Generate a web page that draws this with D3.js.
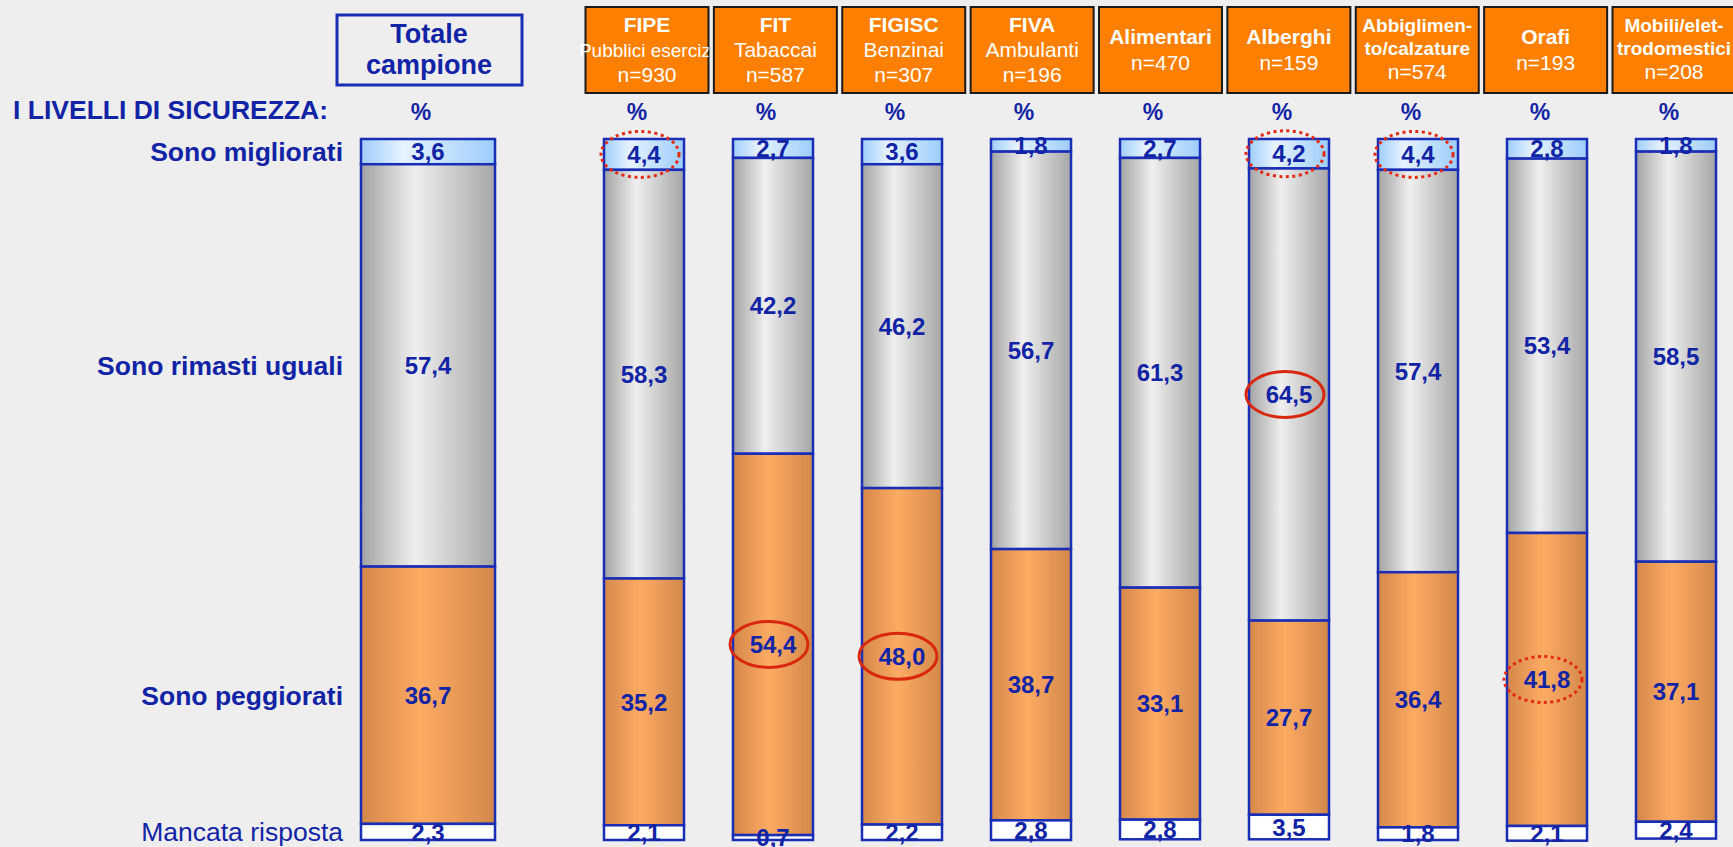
<!DOCTYPE html>
<html>
<head>
<meta charset="utf-8">
<script src="https://cdn.jsdelivr.net/npm/d3@7"></script>
<style>
  body { margin: 0; background: #eeeeee; }
  svg { display: block; font-family: "Liberation Sans", Arial, sans-serif; }
</style>
</head>
<body>
<div id="wrapper"></div>
<script>
// data
const totalLabel = ["Totale", "campione"]
const sectors = ["FIPE", "FIT", "FIGISC", "FIVA", "Alimentari", "Alberghi", "Abbigliamento", "Orafi", "Mobili"]
const sectorTitles = [["FIPE"], ["FIT"], ["FIGISC"], ["FIVA"], ["Alimentari"], ["Alberghi"],
  ["Abbiglimen-", "to/calzature"], ["Orafi"], ["Mobili/elet-", "trodomestici"]]
const sectorSubtitles = ["Pubblici esercizi", "Tabaccai", "Benzinai", "Ambulanti", "", "", "", "", ""]
const sectorN = [930, 587, 307, 196, 470, 159, 574, 193, 208]

const rowLabels = ["Sono migliorati", "Sono rimasti uguali", "Sono peggiorati", "Mancata risposta"]
// first value of each series = Totale campione, then the sectors in order
const migliorati = [3.6, 4.4, 2.7, 3.6, 1.8, 2.7, 4.2, 4.4, 2.8, 1.8]
const uguali     = [57.4, 58.3, 42.2, 46.2, 56.7, 61.3, 64.5, 57.4, 53.4, 58.5]
const peggiorati = [36.7, 35.2, 54.4, 48.0, 38.7, 33.1, 27.7, 36.4, 41.8, 37.1]
const mancata    = [2.3, 2.1, 0.7, 2.2, 2.8, 2.8, 3.5, 1.8, 2.1, 2.4]

// circled values: [column, series index, style]
const highlights = [
  ["FIPE", 0, "dot"], ["Alberghi", 0, "dot"], ["Abbigliamento", 0, "dot"],
  ["Alberghi", 1, "solid"],
  ["FIT", 2, "solid"], ["FIGISC", 2, "solid"], ["Orafi", 2, "dot"],
]

function draw() {
  const dimensions = { width: 1733, height: 847, barTop: 139, barBottom: 840 }
  const blue = "#1224a6"
  const lineBlue = "#1a2db5"

  const wrapper = d3.select("#wrapper").append("svg")
      .attr("width", dimensions.width)
      .attr("height", dimensions.height)

  wrapper.append("rect")
      .attr("width", dimensions.width)
      .attr("height", dimensions.height)
      .attr("fill", "#eeeeee")

  // gradients for the cylinder look
  const defs = wrapper.append("defs")
  const gradients = [
    { id: "g-migl", stops: [[0, "#9fcefb"], [0.32, "#e6f3ff"], [1, "#9ccdfb"]] },
    { id: "g-ugua", stops: [[0, "#a3a3a3"], [0.4, "#efefef"], [1, "#a6a6a6"]] },
    { id: "g-pegg", stops: [[0, "#d4884a"], [0.45, "#fdab63"], [1, "#d2884b"]] },
    { id: "g-manc", stops: [[0, "#ffffff"], [1, "#ffffff"]] },
  ]
  gradients.forEach(g => {
    defs.append("linearGradient")
        .attr("id", g.id)
        .attr("x1", "0%").attr("x2", "100%")
      .selectAll("stop")
      .data(g.stops)
      .join("stop")
        .attr("offset", d => `${d[0] * 100}%`)
        .attr("stop-color", d => d[1])
  })

  // scales
  const yScale = d3.scaleLinear()
    .domain([0, 100])
    .range([dimensions.barTop, dimensions.barBottom])
  const hScale = v => yScale(v) - yScale(0)

  const xBar = d3.scalePoint().domain(sectors).range([644, 1676])
  const xBox = d3.scalePoint().domain(sectors).range([647, 1674])
  const totalX = 428
  const barWidth = 80
  const totalBarWidth = 134

  const seriesList = [migliorati, uguali, peggiorati, mancata]
  const fills = ["url(#g-migl)", "url(#g-ugua)", "url(#g-pegg)", "url(#g-manc)"]
  const columns = ["Totale"].concat(sectors)

  // build stacked segments from top
  const segments = []
  columns.forEach((col, i) => {
    let acc = 0
    seriesList.forEach((series, s) => {
      const v = series[i]
      segments.push({
        col, s, v,
        y0: acc, y1: acc + v,
        cx: col === "Totale" ? totalX : xBar(col),
        w: col === "Totale" ? totalBarWidth : barWidth,
      })
      acc += v
    })
  })

  // header: Totale campione box
  const header = wrapper.append("g")
  header.append("rect")
      .attr("x", 337).attr("y", 15)
      .attr("width", 185).attr("height", 70)
      .attr("fill", "#eeeeee")
      .attr("stroke", lineBlue)
      .attr("stroke-width", 3)
  header.append("text")
      .attr("x", totalX + 1)
      .attr("text-anchor", "middle")
      .attr("fill", blue)
      .attr("font-weight", "bold")
      .attr("font-size", 27)
    .selectAll("tspan")
    .data(totalLabel)
    .join("tspan")
      .attr("x", totalX + 1)
      .attr("y", (d, i) => 43 + i * 31)
      .text(d => d)

  // header: orange sector boxes
  const boxW = 123
  const boxes = header.selectAll(".sector-box")
    .data(sectors)
    .join("g")
      .attr("class", "sector-box")
      .attr("transform", d => `translate(${xBox(d)}, 0)`)

  boxes.append("clipPath")
      .attr("id", (d, i) => `clip-${i}`)
    .append("rect")
      .attr("x", -boxW / 2 - 6).attr("y", 7)
      .attr("width", boxW + 6).attr("height", 86)

  boxes.append("rect")
      .attr("x", -boxW / 2).attr("y", 7)
      .attr("width", boxW).attr("height", 86)
      .attr("fill", "#ff8000")
      .attr("stroke", "#1a1a1a")
      .attr("stroke-width", 2)

  boxes.each(function(d, i) {
    const g = d3.select(this)
    const title = sectorTitles[i]
    const sub = sectorSubtitles[i]
    const lines = []
    if (sub) {
      lines.push({ t: title[0], b: true, size: 21, y: 32 })
      lines.push({ t: sub, b: false, size: i === 0 ? 19 : 21, y: 57 })
      lines.push({ t: `n=${sectorN[i]}`, b: false, size: 21, y: 82 })
    } else if (title.length === 2) {
      lines.push({ t: title[0], b: true, size: 19, y: 32 })
      lines.push({ t: title[1], b: true, size: 19, y: 55 })
      lines.push({ t: `n=${sectorN[i]}`, b: false, size: 21, y: 79 })
    } else {
      lines.push({ t: title[0], b: true, size: 21, y: 44 })
      lines.push({ t: `n=${sectorN[i]}`, b: false, size: 21, y: 70 })
    }
    g.append("g")
        .attr("clip-path", `url(#clip-${i})`)
      .selectAll("text")
      .data(lines)
      .join("text")
        .attr("x", 0)
        .attr("y", l => l.y)
        .attr("text-anchor", "middle")
        .attr("fill", "#ffffff")
        .attr("font-size", l => l.size)
        .attr("font-weight", l => l.b ? "bold" : "normal")
        .text(l => l.t)
  })

  // left title and % row
  wrapper.append("text")
      .attr("x", 13).attr("y", 119)
      .attr("fill", blue)
      .attr("font-weight", "bold")
      .attr("font-size", 26.5)
      .text("I LIVELLI DI SICUREZZA:")

  wrapper.selectAll(".pct")
    .data(columns)
    .join("text")
      .attr("class", "pct")
      .attr("x", d => (d === "Totale" ? totalX : xBar(d)) - 7)
      .attr("y", 120)
      .attr("text-anchor", "middle")
      .attr("fill", blue)
      .attr("font-weight", "bold")
      .attr("font-size", 23)
      .text("%")

  // row labels, aligned with the Totale segments
  const totalSegs = segments.filter(d => d.col === "Totale")
  wrapper.selectAll(".row-label")
    .data(rowLabels)
    .join("text")
      .attr("class", "row-label")
      .attr("x", 343)
      .attr("y", (d, i) => yScale((totalSegs[i].y0 + totalSegs[i].y1) / 2))
      .attr("dy", "0.35em")
      .attr("text-anchor", "end")
      .attr("fill", blue)
      .attr("font-size", 26.5)
      .attr("font-weight", (d, i) => i === 3 ? "normal" : "bold")
      .text(d => d)

  // bars
  const bars = wrapper.append("g")
  bars.selectAll(".seg")
    .data(segments)
    .join("rect")
      .attr("class", "seg")
      .attr("x", d => d.cx - d.w / 2)
      .attr("width", d => d.w)
      .attr("y", d => yScale(d.y0))
      .attr("height", d => hScale(d.v))
      .attr("fill", d => fills[d.s])
      .attr("stroke", lineBlue)
      .attr("stroke-width", 2.5)

  // value labels
  const fmt = v => d3.format(".1f")(v).replace(".", ",")
  bars.selectAll(".val")
    .data(segments)
    .join("text")
      .attr("class", "val")
      .attr("x", d => d.cx)
      .attr("y", d => yScale((d.y0 + d.y1) / 2))
      .attr("dy", "0.36em")
      .attr("text-anchor", "middle")
      .attr("fill", blue)
      .attr("font-weight", "bold")
      .attr("font-size", 24)
      .text(d => fmt(d.v))

  // red ellipses round the values worth noting
  const hlData = highlights.map(([col, s, style]) => {
    const seg = segments.find(d => d.col === col && d.s === s)
    return { seg, style }
  })
  wrapper.append("g").selectAll("ellipse")
    .data(hlData)
    .join("ellipse")
      .attr("cx", d => d.seg.cx - 4)
      .attr("cy", d => yScale((d.seg.y0 + d.seg.y1) / 2))
      .attr("rx", 39)
      .attr("ry", 23)
      .attr("fill", "none")
      .attr("stroke", d => d.style === "solid" ? "#d8280f" : "#e22a14")
      .attr("stroke-width", 3)
      .attr("stroke-dasharray", d => d.style === "solid" ? null : "3,3.5")
}
draw()
</script>
</body>
</html>
